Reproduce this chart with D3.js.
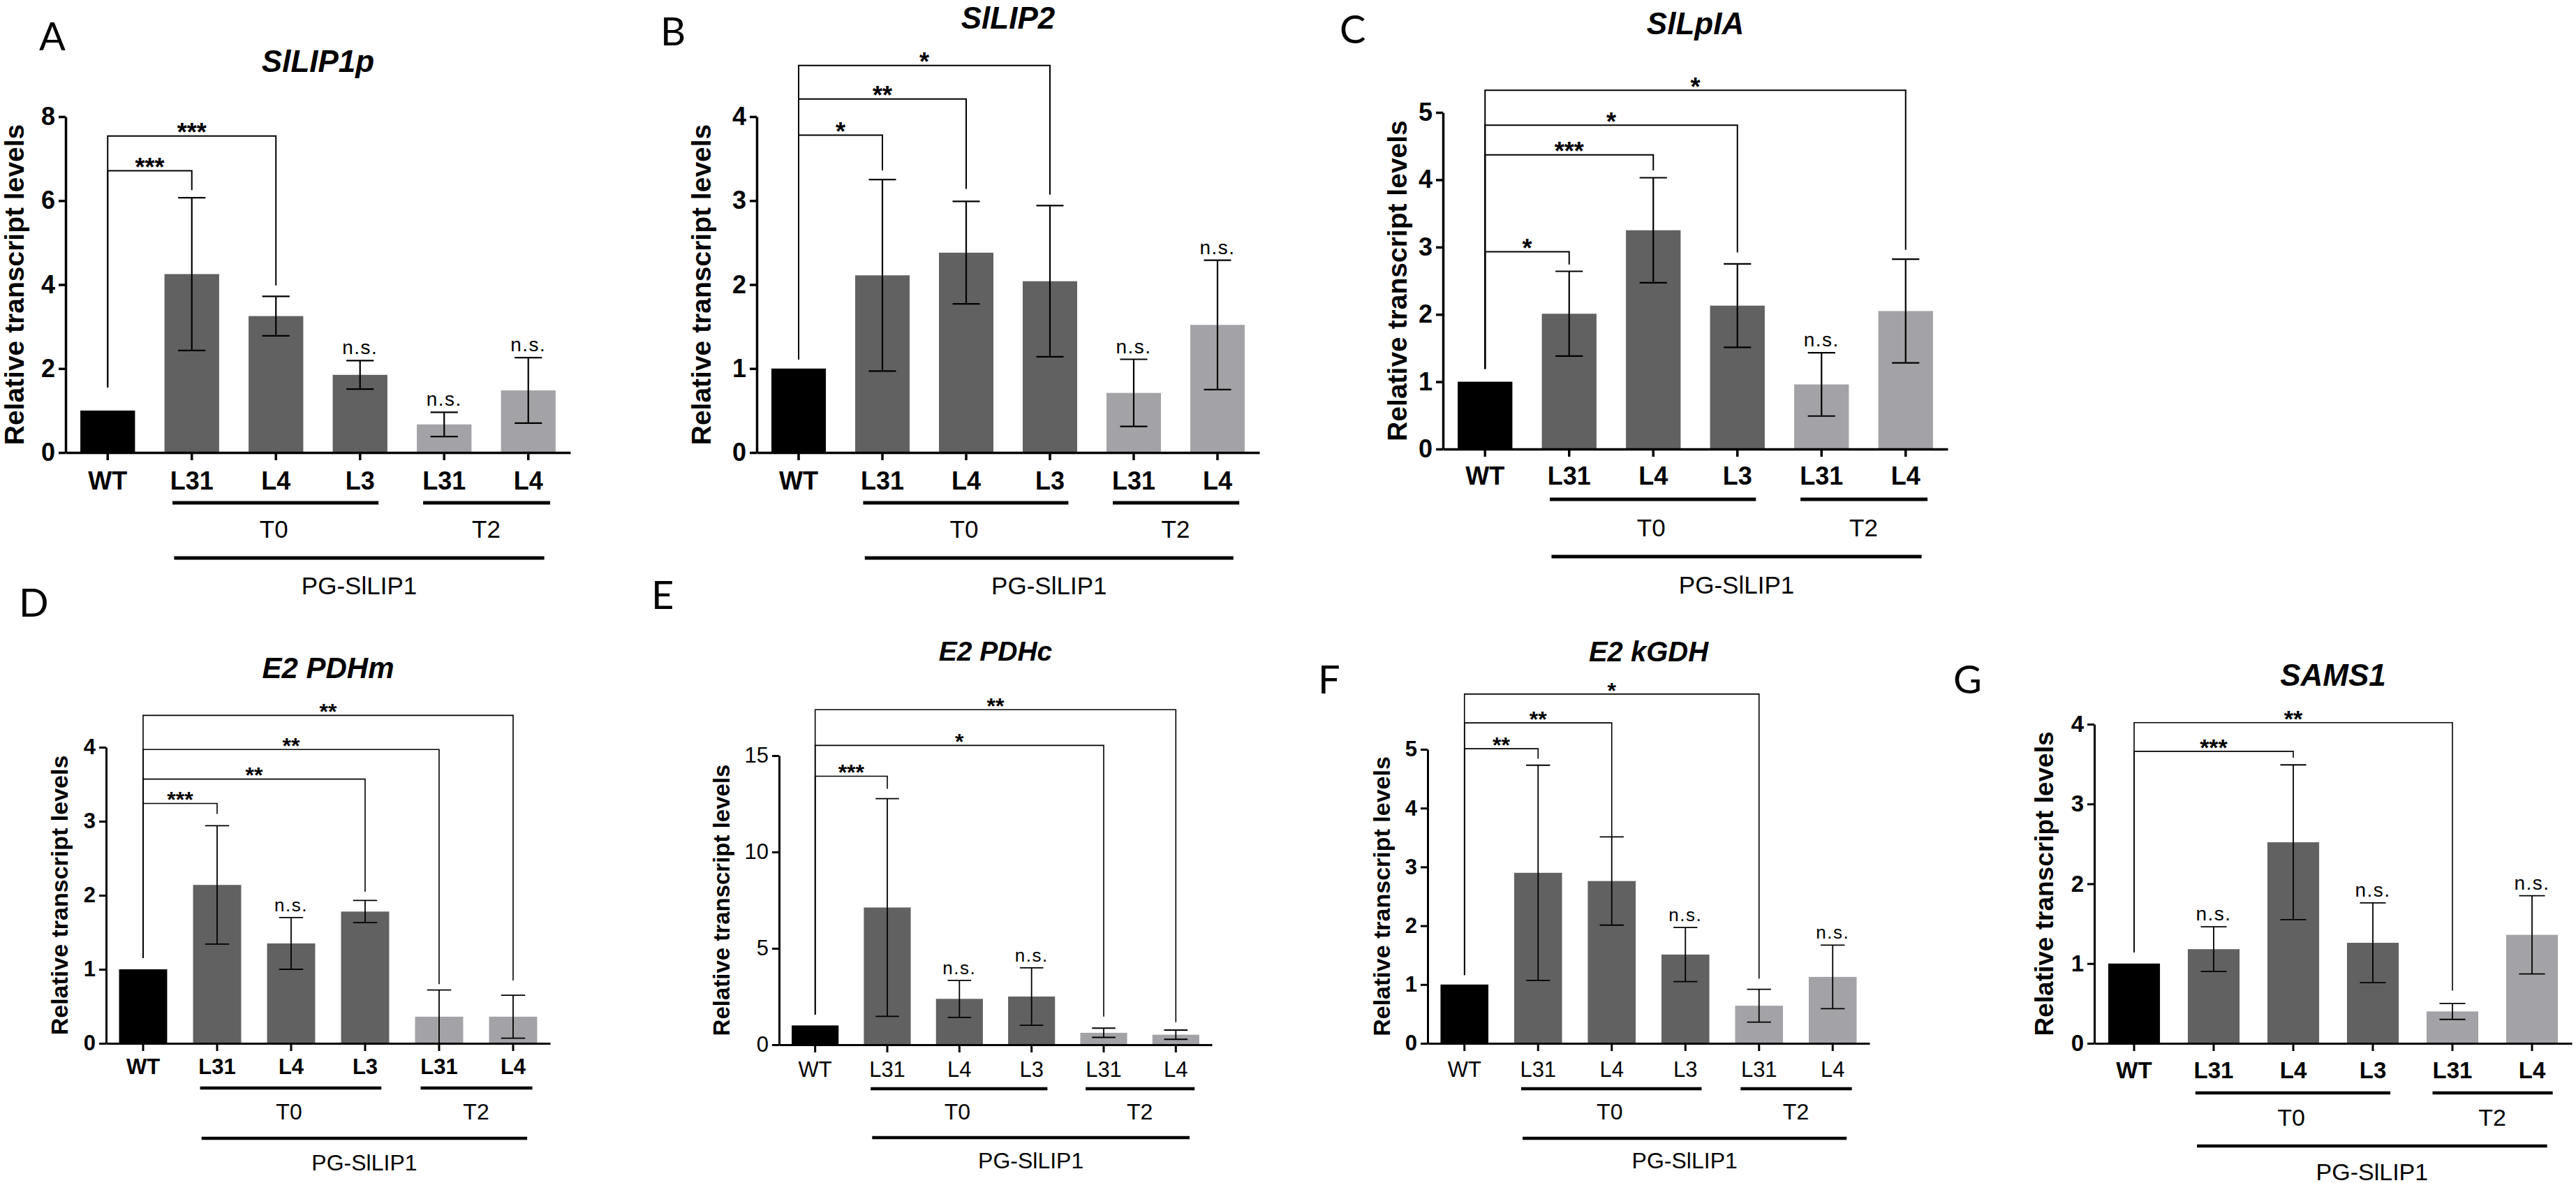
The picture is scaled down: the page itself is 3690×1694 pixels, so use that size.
<!DOCTYPE html>
<html>
<head>
<meta charset="utf-8">
<script src="https://cdn.jsdelivr.net/npm/d3@7"></script>
<style>
body { margin: 0; background: #fff; }
svg { display: block; }
text { font-family: "Liberation Sans", Arial, sans-serif; fill: #000; }
</style>
</head>
<body>
<div id="fig"></div>
<script>
// ---- data ----
var categories = ["WT", "L31", "L4", "L3", "L31", "L4"];
var generation = ["WT", "T0", "T0", "T0", "T2", "T2"];
var genes = ["SlLIP1p", "SlLIP2", "SlLpIA", "E2 PDHm", "E2 PDHc", "E2 kGDH", "SAMS1"];
var letters = ["A", "B", "C", "D", "E", "F", "G"];

var meanA = [1.00, 4.25, 3.25, 1.85, 0.67, 1.48];
var errA  = [0, 1.82, 0.47, 0.34, 0.29, 0.78];
var meanB = [1.00, 2.11, 2.38, 2.04, 0.71, 1.52];
var errB  = [0, 1.14, 0.61, 0.90, 0.40, 0.77];
var meanC = [1.00, 2.01, 3.25, 2.13, 0.96, 2.05];
var errC  = [0, 0.63, 0.78, 0.62, 0.47, 0.77];
var meanD = [1.00, 2.14, 1.35, 1.78, 0.36, 0.36];
var errD  = [0, 0.80, 0.35, 0.15, 0.36, 0.29];
var meanE = [1.00, 7.12, 2.38, 2.50, 0.62, 0.52];
var errE  = [0, 5.65, 0.96, 1.49, 0.24, 0.24];
var meanF = [1.00, 2.90, 2.76, 1.51, 0.64, 1.13];
var errF  = [0, 1.83, 0.75, 0.46, 0.28, 0.54];
var meanG = [1.00, 1.18, 2.52, 1.26, 0.40, 1.36];
var errG  = [0, 0.28, 0.97, 0.50, 0.10, 0.49];

var ticksA = [0, 2, 4, 6, 8];
var ticksB = [0, 1, 2, 3, 4];
var ticksC = [0, 1, 2, 3, 4, 5];
var ticksD = [0, 1, 2, 3, 4];
var ticksE = [0, 5, 10, 15];
var ticksF = [0, 1, 2, 3, 4, 5];
var ticksG = [0, 1, 2, 3, 4];

// bars marked "n.s."
var nsA = [3, 4, 5], nsB = [4, 5], nsC = [4], nsD = [2], nsE = [2, 3], nsF = [3, 5], nsG = [1, 3, 5];

// comparisons with WT: [bar, bracket level, right leg end, stars]
var sigA = [[1, 6.71, 6.25, "***"], [2, 7.54, 3.98, "***"]];
var sigB = [[1, 3.78, 3.36, "*"], [2, 4.21, 3.14, "**"], [3, 4.61, 3.07, "*"]];
var sigC = [[1, 2.93, 2.74, "*"], [2, 4.37, 4.14, "***"], [3, 4.81, 2.92, "*"], [5, 5.33, 2.96, "*"]];
var sigD = [[1, 3.24, 3.10, "***"], [3, 3.57, 2.05, "**"], [4, 3.97, 0.80, "**"], [5, 4.43, 0.85, "**"]];
var sigE = [[1, 13.93, 13.28, "***"], [4, 15.53, 1.46, "*"], [5, 17.38, 1.17, "**"]];
var sigF = [[1, 5.01, 4.84, "**"], [2, 5.45, 3.51, "**"], [4, 5.94, 1.10, "*"]];
var sigG = [[2, 3.66, 3.58, "***"], [4, 4.02, 0.66, "**"]];
// bottom of the WT leg of the brackets
var legWT = [1.55, 1.11, 1.19, 1.15, 1.56, 1.16, 1.14];

// ---- styles ----
var barColor = { WT: "#000000", T0: "#616161", T2: "#a3a3a7" };

var topRow = { yt: 36, ytW: "bold", xt: 36, xtW: "bold", yl: 39, title: 44, grp: 35, ns: 28, star: 36,
  axisW: 3.5, errW: 2.2, brW: 2, grpW: 5, lab: 53, t0L: 72, t0T: 122, pgL: 151, pgT: 203 };
var botRow = { yt: 31, ytW: "bold", xt: 31, xtW: "bold", yl: 34, title: 42, grp: 32, ns: 26, star: 32,
  axisW: 3, errW: 1.8, brW: 1.6, grpW: 4.5, lab: 44, t0L: 64, t0T: 109, pgL: 136, pgT: 182 };

function st(base, extra) { return Object.assign({}, base, extra || {}); }

var panels = [
  { mean: meanA, err: errA, ticks: ticksA, ns: nsA, sig: sigA,
    x0: 94, x1: 817, y0: 648, yTop: 167, lx: 56, ly: 72, titleY: 103, ylabOff: 74, style: st(topRow) },
  { mean: meanB, err: errB, ticks: ticksB, ns: nsB, sig: sigB,
    x0: 1084, x1: 1804, y0: 648, yTop: 167, lx: 946, ly: 65, titleY: 41, ylabOff: 80, style: st(topRow) },
  { mean: meanC, err: errC, ticks: ticksC, ns: nsC, sig: sigC,
    x0: 2067, x1: 2790, y0: 643, yTop: 161, lx: 1919, ly: 62, titleY: 49, ylabOff: 66,
    style: st(topRow, { lab: 51, t0T: 125, pgL: 154, pgT: 207 }) },
  { mean: meanD, err: errD, ticks: ticksD, ns: nsD, sig: sigD,
    x0: 152, x1: 788, y0: 1494, yTop: 1070, lx: 27, ly: 883, titleY: 971, ylabOff: 67, style: st(botRow) },
  { mean: meanE, err: errE, ticks: ticksE, ns: nsE, sig: sigE,
    x0: 1116, x1: 1736, y0: 1496, yTop: 1082, lx: 933, ly: 872, titleY: 946, ylabOff: 83,
    style: st(botRow, { ytW: "normal", xtW: "normal", yl: 33, title: 39, lab: 46, t0L: 63, t0T: 107, pgL: 133, pgT: 177 }) },
  { mean: meanF, err: errF, ticks: ticksF, ns: nsF, sig: sigF,
    x0: 2045, x1: 2678, y0: 1494, yTop: 1073, lx: 1888, ly: 993, titleY: 947, ylabOff: 66,
    style: st(botRow, { xtW: "normal", title: 40, lab: 48, t0L: 65, pgT: 179 }) },
  { mean: meanG, err: errG, ticks: ticksG, ns: nsG, sig: sigG,
    x0: 3000, x1: 3684, y0: 1494, yTop: 1037, lx: 2798, ly: 993, titleY: 982, ylabOff: 72,
    style: st(botRow, { yt: 33, xt: 33, yl: 37, title: 44, grp: 34, ns: 28, star: 34,
      lab: 50, t0L: 71, t0T: 118, pgL: 147, pgT: 196 }) }
];

var svg = d3.select("#fig").append("svg")
    .attr("width", 3690)
    .attr("height", 1694)
    .style("background", "#fff");

panels.forEach(function (p, k) { drawPanel(p, k); });

function drawPanel(p, k) {
    var s = p.style;
    var idx = d3.range(categories.length);
    var x = d3.scaleBand().domain(idx).range([p.x0, p.x1])
        .paddingInner(0.35).paddingOuter(0.175);
    var y = d3.scaleLinear().domain([0, p.ticks[p.ticks.length - 1]]).range([p.y0, p.yTop]);
    var step = x.step();
    var cx = function (i) { return x(i) + x.bandwidth() / 2; };
    var g = svg.append("g");

    // bars
    g.selectAll("rect.bar").data(p.mean).join("rect")
        .attr("class", "bar")
        .attr("x", function (d, i) { return x(i); })
        .attr("y", function (d) { return y(d); })
        .attr("width", x.bandwidth())
        .attr("height", function (d) { return y(0) - y(d); })
        .attr("fill", function (d, i) { return barColor[generation[i]]; });

    // error bars
    var capW = x.bandwidth() * 0.5;
    var lo = function (i) { return y(Math.max(0, p.mean[i] - p.err[i])); };
    var hi = function (i) { return y(p.mean[i] + p.err[i]); };
    var eg = g.selectAll("g.err").data(idx.filter(function (i) { return p.err[i] > 0; })).join("g")
        .attr("class", "err")
        .attr("stroke", "#000")
        .attr("stroke-width", s.errW);
    eg.append("line").attr("x1", cx).attr("x2", cx).attr("y1", lo).attr("y2", hi);
    eg.append("line").attr("x1", function (i) { return cx(i) - capW / 2; })
        .attr("x2", function (i) { return cx(i) + capW / 2; })
        .attr("y1", hi).attr("y2", hi);
    eg.append("line").attr("x1", function (i) { return cx(i) - capW / 2; })
        .attr("x2", function (i) { return cx(i) + capW / 2; })
        .attr("y1", lo).attr("y2", lo);

    // n.s. labels
    g.selectAll("text.ns").data(p.ns).join("text")
        .attr("class", "ns")
        .attr("x", cx)
        .attr("y", function (i) { return hi(i) - 9; })
        .attr("text-anchor", "middle")
        .attr("font-size", s.ns)
        .attr("letter-spacing", 1.5)
        .text("n.s.");

    // brackets against WT
    var wx = cx(0);
    g.selectAll("path.br").data(p.sig).join("path")
        .attr("class", "br")
        .attr("fill", "none")
        .attr("stroke", "#000")
        .attr("stroke-width", s.brW)
        .attr("d", function (d) {
            return "M" + wx + "," + y(legWT[k]) + "V" + y(d[1]) + "H" + cx(d[0]) + "V" + y(d[2]);
        });
    g.selectAll("text.star").data(p.sig).join("text")
        .attr("class", "star")
        .attr("x", function (d) { return (wx + cx(d[0])) / 2; })
        .attr("y", function (d) { return y(d[1]) + 0.4 * s.star - 7; })
        .attr("text-anchor", "middle")
        .attr("font-size", s.star)
        .attr("font-weight", "bold")
        .text(function (d) { return d[3]; });

    // axes
    var yaxis = d3.axisLeft(y).tickValues(p.ticks).tickSize(10).tickSizeOuter(0).tickPadding(5)
        .tickFormat(d3.format("d"));
    var ga = g.append("g")
        .attr("transform", "translate(" + p.x0 + ",0)")
        .call(yaxis)
        .attr("font-family", null).attr("font-size", null);
    ga.select(".domain").attr("stroke-width", s.axisW);
    ga.selectAll(".tick line").attr("stroke-width", s.axisW);
    ga.selectAll(".tick text")
        .attr("font-size", s.yt)
        .attr("font-weight", s.ytW);

    var xaxis = d3.axisBottom(x).tickSize(11).tickSizeOuter(0)
        .tickFormat(function (i) { return categories[i]; });
    var gb = g.append("g")
        .attr("transform", "translate(0," + p.y0 + ")")
        .call(xaxis)
        .attr("font-family", null).attr("font-size", null);
    gb.select(".domain").attr("stroke-width", s.axisW);
    gb.selectAll(".tick line").attr("stroke-width", s.axisW);
    gb.selectAll(".tick text")
        .attr("y", s.lab).attr("dy", 0)
        .attr("font-size", s.xt)
        .attr("font-weight", s.xtW);

    // group bars under the axis
    var lines = [
        [cx(1) - 0.23 * step, cx(3) + 0.22 * step, s.t0L],
        [cx(4) - 0.25 * step, cx(5) + 0.26 * step, s.t0L],
        [cx(1) - 0.21 * step, cx(5) + 0.19 * step, s.pgL]
    ];
    g.selectAll("line.grp").data(lines).join("line")
        .attr("class", "grp")
        .attr("x1", function (d) { return d[0]; })
        .attr("x2", function (d) { return d[1]; })
        .attr("y1", function (d) { return p.y0 + d[2]; })
        .attr("y2", function (d) { return p.y0 + d[2]; })
        .attr("stroke", "#000")
        .attr("stroke-width", s.grpW);
    var labels = [
        ["T0", cx(2) - 3, s.t0T],
        ["T2", (cx(4) + cx(5)) / 2, s.t0T],
        ["PG-SlLIP1", (lines[2][0] + lines[2][1]) / 2, s.pgT]
    ];
    g.selectAll("text.grp").data(labels).join("text")
        .attr("class", "grp")
        .attr("x", function (d) { return d[1]; })
        .attr("y", function (d) { return p.y0 + d[2]; })
        .attr("text-anchor", "middle")
        .attr("font-size", s.grp)
        .text(function (d) { return d[0]; });

    // y label, title, panel letter
    g.append("text")
        .attr("transform", "translate(" + (p.x0 - p.ylabOff + 0.36 * s.yl) + "," + ((p.y0 + p.yTop) / 2) + ") rotate(-90)")
        .attr("text-anchor", "middle")
        .attr("font-size", s.yl)
        .attr("font-weight", "bold")
        .text("Relative transcript levels");

    g.append("text")
        .attr("x", (p.x0 + p.x1) / 2)
        .attr("y", p.titleY)
        .attr("text-anchor", "middle")
        .attr("font-size", s.title)
        .attr("font-weight", "bold")
        .attr("font-style", "italic")
        .text(genes[k]);

    g.append("text")
        .attr("x", p.lx)
        .attr("y", p.ly)
        .style("font-family", "Lato, 'Open Sans', sans-serif")
        .attr("font-size", 56)
        .text(letters[k]);
}
</script>
</body>
</html>
